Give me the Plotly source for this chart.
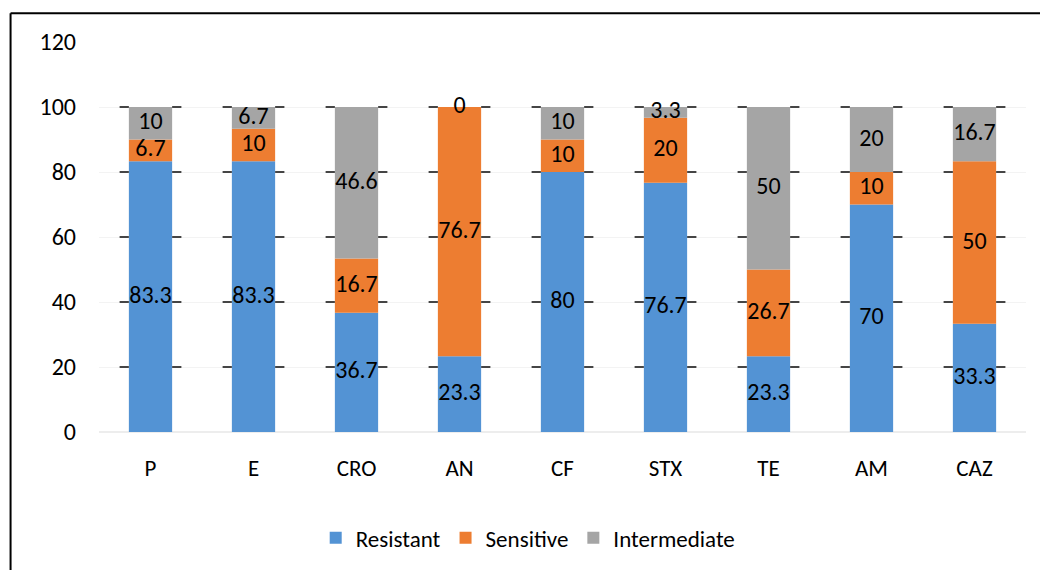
import plotly.graph_objects as go

categories = ["P", "E", "CRO", "AN", "CF", "STX", "TE", "AM", "CAZ"]
resistant = [83.3, 83.3, 36.7, 23.3, 80, 76.7, 23.3, 70, 33.3]
sensitive = [6.7, 10, 16.7, 76.7, 10, 20, 26.7, 10, 50]
intermediate = [10, 6.7, 46.6, 0, 10, 3.3, 50, 20, 16.7]
y_ticks = [0, 20, 40, 60, 80, 100, 120]

series = [
    ("Resistant", resistant, "#5393D4"),
    ("Sensitive", sensitive, "#ED7D31"),
    ("Intermediate", intermediate, "#A5A5A5"),
]

FONT = "Carlito, Lato, 'Open Sans', sans-serif"
xs = list(range(len(categories)))
BAR_W = 0.42
DASH_OUT = 0.30

fig = go.Figure()

# short dark grid dashes beside each bar
dx, dy = [], []
for i in xs:
    for t in y_ticks[1:-1]:
        dx += [i - DASH_OUT, i - BAR_W / 2, None, i + BAR_W / 2, i + DASH_OUT, None]
        dy += [t, t, None, t, t, None]
fig.add_trace(go.Scatter(x=dx, y=dy, mode="lines", line=dict(color="#454545", width=2),
                         showlegend=False, hoverinfo="skip"))

base = [0.0] * len(categories)
for name, vals, col in series:
    fig.add_trace(go.Bar(x=xs, y=vals, base=base[:], name=name, width=BAR_W,
                         marker=dict(color=col, line=dict(width=0))))
    mids = [b + v / 2 for b, v in zip(base, vals)]
    fig.add_trace(go.Scatter(x=xs, y=mids, mode="text", text=[f"{v:g}" for v in vals],
                             textfont=dict(family=FONT, size=24, color="#000000"),
                             showlegend=False, hoverinfo="skip"))
    base = [b + v for b, v in zip(base, vals)]

frame = dict(type="line", xref="paper", yref="paper", layer="above",
             line=dict(color="#000000", width=2))

fig.update_layout(
    width=1040, height=570,
    margin=dict(l=98.5, r=13.5, t=42, b=137),
    paper_bgcolor="white", plot_bgcolor="white",
    barmode="overlay",
    font=dict(family=FONT, size=24, color="#000000"),
    xaxis=dict(range=[-0.5, len(categories) - 0.5], tickvals=xs, ticktext=categories,
               showgrid=False, zeroline=False, showline=False, ticks="",
               ticklabelstandoff=20, tickfont=dict(size=23)),
    yaxis=dict(range=[0, 120], tickvals=y_ticks, showgrid=True, gridcolor="#F3F3F3",
               gridwidth=1, zeroline=True, zerolinecolor="#EDEDED", showline=False,
               ticks="", ticklabelstandoff=22, tickfont=dict(size=24)),
    legend=dict(orientation="h", x=0.463, xanchor="center", y=-0.268, yanchor="middle",
                font=dict(size=23), traceorder="normal"),
    shapes=[
        dict(frame, x0=-0.0954, x1=1.1, y0=1.074, y1=1.074),
        dict(frame, x0=-0.0954, x1=-0.0954, y0=-0.5, y1=1.074),
    ],
)

fig.write_html(
    "out.html",
    config={"displayModeBar": False},
    post_script="document.body.style.margin='0';document.body.style.overflow='hidden';",
)
